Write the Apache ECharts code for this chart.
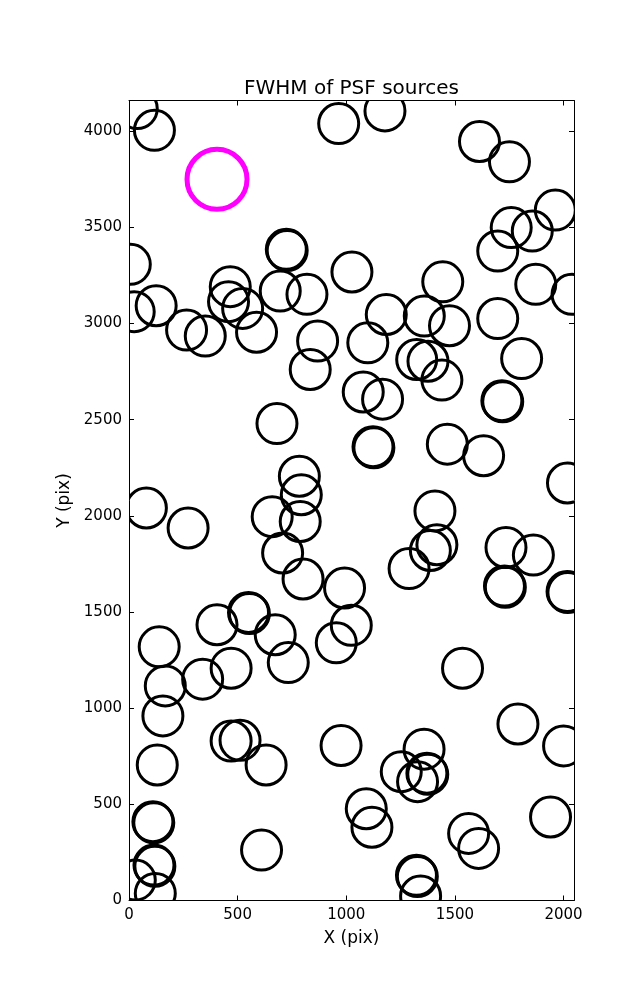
<!DOCTYPE html>
<html><head><meta charset="utf-8">
<script src="https://cdn.jsdelivr.net/npm/echarts@6/dist/echarts.min.js"></script>
<style>html,body{margin:0;padding:0;background:#fff}#c{width:637px;height:1000px}</style>
</head><body><div id="c"></div>
<script>
// PSF source positions (pix)
const srcX = [38,117,965,1178,1613,1751,1962,1759,1856,1697,
  6,724,728,1026,466,458,523,696,819,125,
  24,265,351,587,868,1444,1872,2039,1184,1359,
  1475,1697,1099,1324,1376,1440,1807,834,1078,1167,
  1716,1720,681,1123,1127,1465,1632,2018,784,793,
  80,272,659,788,1408,707,801,1417,1387,1289,
  1735,1861,1728,1732,2016,2020,992,405,550,554,
  673,139,1023,954,167,339,470,733,1535,156,
  130,470,511,631,976,1790,2000,1358,1253,1371,
  1375,1328,1092,1118,110,114,1940,1563,1609,610,
  115,119,29,121,1323,1327,1342];
const srcY = [4118,4005,4040,4106,3947,3841,3590,3499,3481,3377,
  3308,3386,3380,3268,3192,3114,3079,3169,3152,3093,
  3062,2966,2935,2955,2909,3217,3204,3152,3047,3039,
  2989,3026,2900,2813,2804,2706,2818,2761,2644,2607,
  2599,2593,2480,2360,2354,2373,2313,2171,2206,2110,
  2041,1937,1996,1971,2026,1807,1672,1850,1820,1726,
  1836,1796,1635,1629,1607,1601,1625,1434,1498,1492,
  1382,1319,1431,1340,1116,1151,1208,1237,1208,960,
  705,829,833,705,806,918,804,787,670,662,
  656,618,477,381,410,404,434,349,271,262,
  184,178,106,37,131,125,23];
// reference (magenta) source
const refX = [405];
const refY = [3750];
// axes
const xMin = 0, xMax = 2048;
const yMin = 0, yMax = 4160;
const xTicks = [0,500,1000,1500,2000];
const yTicks = [0,500,1000,1500,2000,2500,3000,3500,4000];

const FONT = 'DejaVu Sans';
const chart = echarts.init(document.getElementById('c'), null, {renderer:'canvas'});

function axisBase(ticks, min, max, showLabel, margin, extra) {
  return Object.assign({
    type: 'value', min: min, max: max,
    axisLine: {show: true, onZero: false, lineStyle: {color: '#000', width: 1}},
    axisTick: {show: true, inside: true, length: 5, customValues: ticks, lineStyle: {color: '#000', width: 1}},
    axisLabel: {show: showLabel, customValues: ticks, color: '#000', fontFamily: FONT, fontSize: 15,
                margin: margin, formatter: v => String(v)},
    splitLine: {show: false}
  }, extra || {});
}

function ringSeries(xs, ys, r, color, lw) {
  return {
    type: 'custom', xAxisIndex: 0, yAxisIndex: 0, silent: true, clip: true,
    data: xs.map((x, i) => [x, ys[i]]),
    renderItem: (params, api) => {
      const p = api.coord([api.value(0), api.value(1)]);
      return {type: 'circle', shape: {cx: p[0], cy: p[1], r: r},
              style: {fill: 'none', stroke: color, lineWidth: lw}};
    }
  };
}

const option = {
  animation: false,
  backgroundColor: '#fff',
  grid: {left: 129, right: 63, top: 100.5, bottom: 99.5, containLabel: false},
  graphic: [{
    type: 'text', x: 351.5, y: 89,
    style: {text: 'FWHM of PSF sources', fontFamily: FONT, fontSize: 20, fill: '#000',
            textAlign: 'center', textVerticalAlign: 'middle'}
  }],
  xAxis: [
    axisBase(xTicks, xMin, xMax, true, 7, {position: 'bottom', name: 'X (pix)', nameLocation: 'middle', nameGap: 30,
      nameTextStyle: {color: '#000', fontFamily: FONT, fontSize: 17}}),
    axisBase(xTicks, xMin, xMax, false, 7, {position: 'top'})
  ],
  yAxis: [
    axisBase(yTicks, yMin, yMax, true, 7, {position: 'left', name: 'Y (pix)', nameLocation: 'middle', nameGap: 50,
      nameTextStyle: {color: '#000', fontFamily: FONT, fontSize: 17}}),
    axisBase(yTicks, yMin, yMax, false, 7, {position: 'right'})
  ],
  series: [
    ringSeries(srcX, srcY, 20, '#000', 3),
    ringSeries(refX, refY, 30, '#ff00ff', 5)
  ]
};
chart.setOption(option);
</script>
</body></html>
